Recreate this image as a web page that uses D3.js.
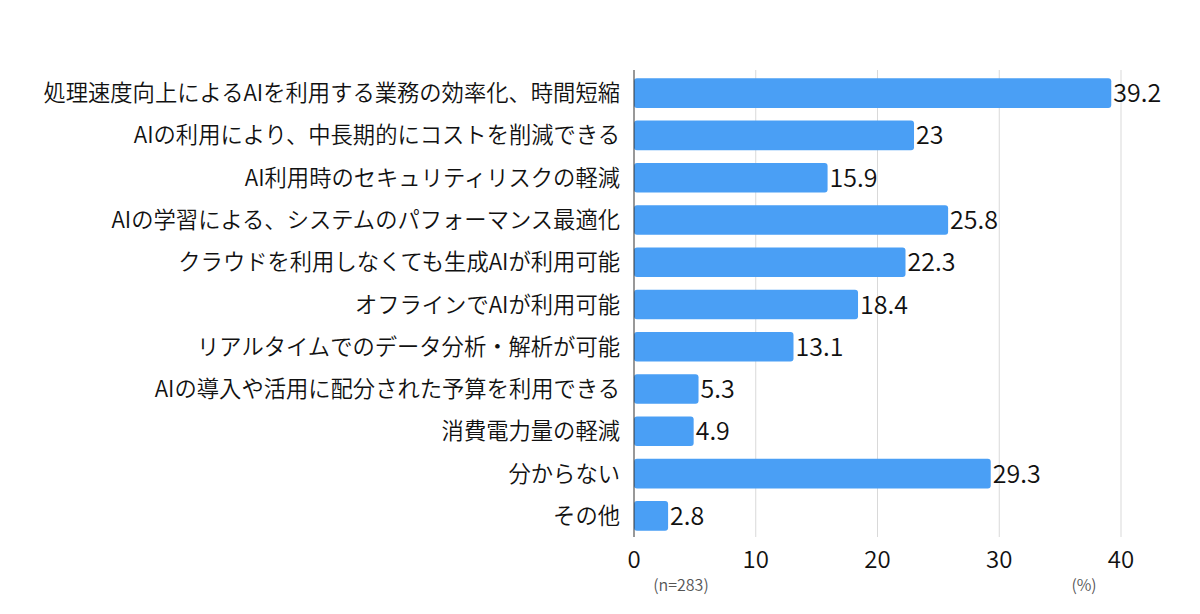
<!DOCTYPE html>
<html>
<head>
<meta charset="utf-8">
<script src="https://cdn.jsdelivr.net/npm/d3@7"></script>
<style>
  body { margin: 0; background: #fff; }
  text { font-family: "Noto Sans CJK JP", "Noto Sans", sans-serif; font-weight: 350; }
</style>
</head>
<body>
<svg id="chart" width="1200" height="614"></svg>
<script>
const categories = [
  "処理速度向上によるAIを利用する業務の効率化、時間短縮",
  "AIの利用により、中長期的にコストを削減できる",
  "AI利用時のセキュリティリスクの軽減",
  "AIの学習による、システムのパフォーマンス最適化",
  "クラウドを利用しなくても生成AIが利用可能",
  "オフラインでAIが利用可能",
  "リアルタイムでのデータ分析・解析が可能",
  "AIの導入や活用に配分された予算を利用できる",
  "消費電力量の軽減",
  "分からない",
  "その他"
];
const values = [39.2, 23, 15.9, 25.8, 22.3, 18.4, 13.1, 5.3, 4.9, 29.3, 2.8];
const xTicks = [0, 10, 20, 30, 40];

const svg = d3.select("#chart");
const plotLeft = 634, plotRight = 1121, plotTop = 72, plotBottom = 537;

const x = d3.scaleLinear().domain([0, 40]).range([plotLeft, plotRight]);
const y = d3.scaleBand().domain(categories).range([plotTop, plotBottom]).paddingInner(0.3).paddingOuter(0.15);

// grid
svg.append("g")
  .selectAll("line")
  .data(xTicks.filter(d => d > 0))
  .enter().append("line")
  .attr("x1", d => x(d)).attr("x2", d => x(d))
  .attr("y1", plotTop - 2).attr("y2", plotBottom)
  .attr("stroke", "#d9d9d9").attr("stroke-width", 1);

// bars
svg.append("g")
  .selectAll("rect")
  .data(values)
  .enter().append("rect")
  .attr("x", x(0))
  .attr("y", (d, i) => y(categories[i]))
  .attr("width", d => x(d) - x(0))
  .attr("height", y.bandwidth())
  .attr("rx", 3)
  .attr("fill", "#4a9ff5");

// axis line
svg.append("line")
  .attr("x1", x(0)).attr("x2", x(0))
  .attr("y1", plotTop - 2).attr("y2", plotBottom)
  .attr("stroke", "#333").attr("stroke-width", 1);

// value labels
svg.append("g")
  .selectAll("text")
  .data(values)
  .enter().append("text")
  .attr("x", d => x(d) + 2)
  .attr("y", (d, i) => y(categories[i]) + y.bandwidth() / 2)
  .attr("dy", "0.36em")
  .attr("font-size", 25)
  .attr("fill", "#111")
  .text(d => d);

// category labels
svg.append("g")
  .selectAll("text")
  .data(categories)
  .enter().append("text")
  .attr("x", plotLeft - 14)
  .attr("y", d => y(d) + y.bandwidth() / 2)
  .attr("dy", "0.36em")
  .attr("text-anchor", "end")
  .attr("font-size", 22.3)
  .attr("fill", "#111")
  .text(d => d);

// x tick labels
svg.append("g")
  .selectAll("text")
  .data(xTicks)
  .enter().append("text")
  .attr("x", d => x(d))
  .attr("y", 568)
  .attr("text-anchor", "middle")
  .attr("font-size", 24)
  .attr("fill", "#111")
  .text(d => d);

svg.append("text")
  .attr("x", 681).attr("y", 591)
  .attr("text-anchor", "middle")
  .attr("font-size", 16).attr("fill", "#555")
  .text("(n=283)");

svg.append("text")
  .attr("x", 1084).attr("y", 591)
  .attr("text-anchor", "middle")
  .attr("font-size", 16).attr("fill", "#555")
  .text("(%)");
</script>
</body>
</html>
